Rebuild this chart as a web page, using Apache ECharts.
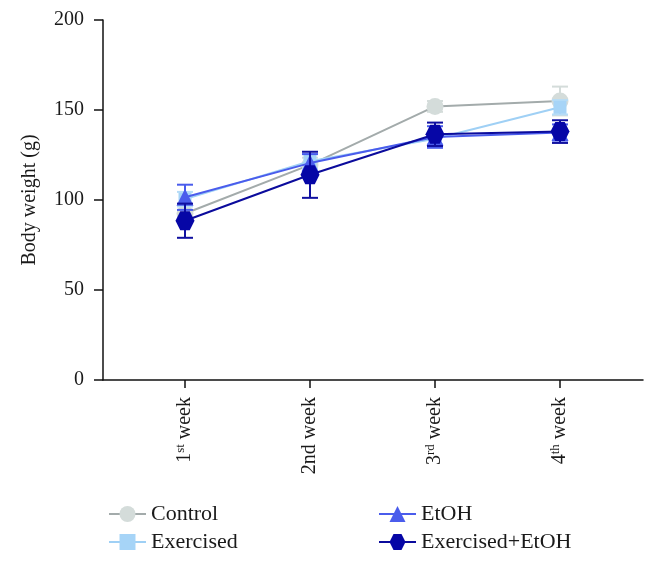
<!DOCTYPE html>
<html>
<head>
<meta charset="utf-8">
<script src="https://cdn.jsdelivr.net/npm/echarts@6/dist/echarts.min.js"></script>
<style>html,body{margin:0;padding:0;background:#fff;}#c{width:658px;height:562px;}</style>
</head>
<body>
<div id="c"></div>
<script>
// ---- data ----
var weeks = [1, 2, 3, 4];
var weekNum = ['1', '2', '3', '4'];
var weekSuffix = ['st', 'nd', 'rd', 'th'];
var weekSuffixSup = [true, false, true, true];
var weekWord = ' week';
var yTicks = [0, 50, 100, 150, 200];

var seriesNames = ['Control', 'Exercised', 'EtOH', 'Exercised+EtOH'];
var controlMean = [92.5, 119.5, 152, 155];
var controlErr = [4, 4, 3, 8];
var exercisedMean = [100.5, 121.5, 134, 151.5];
var exercisedErr = [4, 4, 3, 4];
var etohMean = [101.5, 120.5, 135, 137.5];
var etohErr = [7, 5, 6, 4.5];
var exEtohMean = [88.5, 114, 136.5, 138];
var exEtohErr = [9.5, 12.8, 6.5, 6.3];

var FONT = '"Liberation Serif", "DejaVu Serif", serif';
var hexPath = 'path://M-1,0 L-0.5,-0.866 L0.5,-0.866 L1,0 L0.5,0.866 L-0.5,0.866 Z';

var styles = [
  {line: '#a3abab', marker: '#d4dcda', err: '#d4dcda', symbol: 'circle', size: 17},
  {line: '#9fd0f5', marker: '#a6d4f7', err: '#b6dcf7', symbol: 'rect', size: 13},
  {line: '#4a5cec', marker: '#4a5cec', err: '#4a5cec', symbol: 'triangle', size: 17},
  {line: '#0b0b9c', marker: '#0606a6', err: '#1010a0', symbol: hexPath, size: 19}
];
var means = [controlMean, exercisedMean, etohMean, exEtohMean];
var errs = [controlErr, exercisedErr, etohErr, exEtohErr];

var series = [];
means.forEach(function (m, i) {
  var st = styles[i];
  var errData = weeks.map(function (w, k) { return [w, m[k] - errs[i][k], m[k] + errs[i][k]]; });
  series.push({
    type: 'custom',
    name: seriesNames[i] + ' err',
    data: errData,
    z: 2 + i * 2,
    silent: true,
    renderItem: function (params, api) {
      var x = api.value(0);
      var lo = api.coord([x, api.value(1)]);
      var hi = api.coord([x, api.value(2)]);
      var hw = 8;
      var s = {stroke: st.err, lineWidth: 2};
      return {
        type: 'group',
        children: [
          {type: 'line', shape: {x1: lo[0], y1: lo[1], x2: hi[0], y2: hi[1]}, style: s},
          {type: 'line', shape: {x1: lo[0] - hw, y1: lo[1], x2: lo[0] + hw, y2: lo[1]}, style: s},
          {type: 'line', shape: {x1: hi[0] - hw, y1: hi[1], x2: hi[0] + hw, y2: hi[1]}, style: s}
        ]
      };
    }
  });
  series.push({
    type: 'line',
    name: seriesNames[i],
    data: weeks.map(function (w, k) { return [w, m[k]]; }),
    z: 3 + i * 2,
    symbol: st.symbol,
    symbolSize: st.size,
    showAllSymbol: true,
    lineStyle: {color: st.line, width: 2},
    itemStyle: {color: st.marker, borderWidth: 0},
    emphasis: {disabled: true}
  });
});

var labelFormatter = function (v) {
  var k = weeks.indexOf(Math.round(v));
  if (k < 0) return '';
  var sfx = weekSuffixSup[k] ? '{s|' + weekSuffix[k] + '}' : '{n|' + weekSuffix[k] + '}';
  return '{n|' + weekNum[k] + '}' + sfx + '{n|' + weekWord + '}';
};

var legendText = {fontFamily: FONT, fontSize: 22, color: '#1a1a1a'};
var chart = echarts.init(document.getElementById('c'), null, {renderer: 'canvas'});
chart.setOption({
  animation: false,
  backgroundColor: '#fff',
  grid: {left: 103, right: 15, top: 20, bottom: 182, containLabel: false},
  xAxis: {
    type: 'value',
    min: 0.344,
    max: 4.664,
    splitLine: {show: false},
    axisLine: {show: true, lineStyle: {color: '#111', width: 1.5}},
    axisTick: {show: true, customValues: weeks, length: 8, lineStyle: {color: '#111', width: 1.5}},
    axisLabel: {
      show: true,
      customValues: weeks,
      rotate: 90,
      margin: 17,
      formatter: labelFormatter,
      rich: {
        n: {fontFamily: FONT, fontSize: 20, color: '#1a1a1a', lineHeight: 22},
        s: {fontFamily: FONT, fontSize: 13, color: '#1a1a1a', lineHeight: 22, verticalAlign: 'top', padding: [0, 0, 7, 0]}
      }
    }
  },
  yAxis: {
    type: 'value',
    min: 0,
    max: 200,
    interval: 50,
    name: 'Body weight (g)',
    nameLocation: 'middle',
    nameGap: 63,
    nameTextStyle: {fontFamily: FONT, fontSize: 20, color: '#1a1a1a'},
    splitLine: {show: false},
    axisLine: {show: true, lineStyle: {color: '#111', width: 1.5}},
    axisTick: {show: true, length: 9, lineStyle: {color: '#111', width: 1.5}},
    axisLabel: {fontFamily: FONT, fontSize: 20, color: '#1a1a1a', margin: 19}
  },
  legend: [
    {
      data: [seriesNames[0], seriesNames[1]],
      orient: 'vertical',
      left: 103,
      top: 498,
      itemWidth: 37,
      itemHeight: 20,
      itemGap: 6,
      textStyle: legendText,
      selectedMode: false
    },
    {
      data: [seriesNames[2], seriesNames[3]],
      orient: 'vertical',
      left: 373,
      top: 498,
      itemWidth: 37,
      itemHeight: 20,
      itemGap: 6,
      textStyle: legendText,
      selectedMode: false
    }
  ],
  series: series
});
</script>
</body>
</html>
